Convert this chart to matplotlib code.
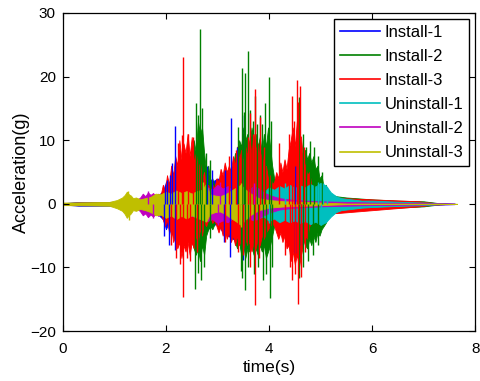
import numpy as np
import matplotlib
matplotlib.use('Agg')
import matplotlib.pyplot as plt
from matplotlib.lines import Line2D

plt.rcParams['font.family'] = ['Liberation Sans', 'DejaVu Sans']

# Envelope breakpoints: time (s), upper and lower amplitude (g)
# plus the isolated spikes that stick out of each envelope.

# Install-1 (blue)
inst1_t = [0.0, 0.3, 0.9, 1.7, 1.95, 2.0, 2.05, 2.1, 2.15, 2.2, 2.3, 2.6, 2.8, 2.9, 3.0, 3.1, 3.2, 3.3, 3.4, 3.5, 3.6, 3.8, 4.0, 4.3, 4.5, 4.7, 4.9, 5.2, 6.0, 7.0, 7.6]
inst1_hi = [0.1, 0.3, 0.3, 0.5, 2.0, 3.5, 2.5, 4.0, 3.0, 4.5, 5.0, 4.0, 4.5, 3.5, 4.0, 3.5, 4.5, 4.0, 6.0, 5.0, 5.0, 4.0, 3.0, 4.0, 5.0, 3.0, 1.5, 0.8, 0.5, 0.2, 0.05]
inst1_lo = [-0.1, -0.3, -0.3, -0.5, -2.5, -4.0, -3.0, -5.0, -4.0, -5.0, -5.0, -4.5, -4.0, -3.5, -3.0, -4.5, -5.0, -5.5, -6.0, -5.5, -5.0, -4.0, -3.0, -4.0, -5.0, -3.0, -1.5, -0.8, -0.5, -0.2, -0.05]
inst1_spk_t = [1.98, 2.02, 2.08, 2.12, 2.17, 2.80, 2.90, 3.14, 3.26, 3.38, 3.51, 4.50,
               1.97, 2.05, 2.17, 3.12, 3.25, 3.50, 4.50, 4.62]
inst1_spk_v = [3.0, 3.7, 4.5, 6.4, 12.3, 6.0, 5.3, 5.3, 13.5, 9.0, 14.0, 6.0,
               -5.0, -6.5, -7.3, -6.0, -8.3, -8.8, -7.8, -6.5]

# Install-2 (green)
inst2_t = [0.0, 1.0, 1.8, 2.1, 2.3, 2.45, 2.50, 2.54, 2.58, 2.62, 2.66, 2.70, 2.74, 2.78, 2.82, 2.86, 2.90, 2.95, 3.0,
           3.1, 3.2, 3.3, 3.34, 3.38, 3.42, 3.46, 3.50, 3.54, 3.58, 3.62, 3.66, 3.70, 3.74, 3.78, 3.82, 3.86, 3.90, 3.94, 3.98, 4.02, 4.06, 4.10,
           4.2, 4.3, 4.4, 4.5, 4.55, 4.6, 4.65, 4.70, 4.74, 4.78, 4.82, 4.86, 4.90, 4.94, 4.98, 5.02, 5.06, 5.10, 5.15, 5.2, 5.3, 5.5, 6.0, 6.5, 7.0, 7.3]
inst2_hi = [0.1, 0.2, 0.5, 2.0, 4.0, 6.0, 7.0, 10.0, 8.0, 13.0, 11.0, 12.0, 8.0, 5.0, 6.0, 3.5, 4.0, 2.5, 3.0,
            3.5, 5.0, 6.0, 8.0, 7.0, 10.0, 9.0, 12.0, 10.0, 11.0, 9.0, 12.0, 10.0, 11.0, 9.0, 10.5, 8.0, 11.0, 9.0, 12.0, 9.0, 6.0, 4.0,
            3.5, 4.0, 5.0, 7.0, 6.0, 8.0, 6.5, 8.5, 7.0, 8.0, 6.5, 7.5, 5.5, 6.0, 4.0, 4.5, 2.5, 3.0, 1.8, 1.5, 1.2, 1.0, 0.7, 0.5, 0.4, 0.1]
inst2_lo = [-0.1, -0.2, -0.5, -2.0, -4.0, -5.0, -6.0, -7.0, -8.0, -7.0, -9.0, -6.5, -8.0, -5.0, -4.0, -3.5, -4.0, -3.0, -3.0,
            -3.0, -4.0, -5.0, -6.0, -7.0, -6.0, -8.0, -6.5, -8.5, -7.0, -7.5, -6.5, -8.0, -7.0, -8.0, -6.5, -7.5, -6.5, -8.5, -7.5, -6.5, -5.0, -3.5,
            -3.0, -3.5, -4.0, -5.0, -4.5, -6.0, -5.0, -6.5, -7.0, -5.5, -6.5, -5.0, -6.0, -4.5, -5.0, -4.0, -3.5, -3.0, -2.0, -1.5, -1.4, -1.2, -0.8, -0.6, -0.4, -0.1]
inst2_spk_t = [2.58, 2.62, 2.66, 2.70, 2.77, 2.85, 3.40, 3.47, 3.52, 3.54, 3.59, 3.63, 3.68, 3.73, 3.76, 3.82, 3.87, 3.92, 3.99, 4.03,
               4.58, 4.66, 4.72, 4.80, 4.88, 4.95, 5.02,
               2.56, 2.62, 2.68, 2.74, 2.85, 3.45, 3.48, 3.53, 3.60, 3.70, 3.78, 3.88, 3.95, 4.01, 4.05, 4.58, 4.65, 4.75, 4.85, 4.95]
inst2_spk_v = [15.8, 14.0, 27.5, 15.0, 8.0, 6.9, 12.0, 21.4, 14.5, 20.5, 24.0, 14.8, 13.0, 17.0, 12.5, 14.0, 12.5, 15.8, 20.0, 13.0,
               16.8, 11.0, 9.0, 9.8, 9.0, 7.5, 5.0,
               -13.4, -10.9, -12.0, -10.0, -5.4, -10.5, -11.7, -13.6, -10.0, -11.0, -9.9, -12.0, -11.0, -14.8, -10.0, -11.7, -10.0, -9.0, -8.0, -6.5]

# Install-3 (red)
inst3_t = [0.0, 0.3, 1.0, 1.5, 1.7, 1.8,
           1.90, 1.94, 1.98, 2.02, 2.06, 2.10, 2.14, 2.18, 2.22, 2.26, 2.30, 2.34, 2.38, 2.42, 2.46, 2.50, 2.54, 2.58, 2.62, 2.66, 2.70, 2.74, 2.78, 2.82,
           2.86, 2.90, 2.94, 2.98, 3.02, 3.06, 3.10, 3.14, 3.18, 3.22, 3.26, 3.30, 3.34, 3.38, 3.42, 3.46, 3.50, 3.54, 3.58, 3.62, 3.66, 3.70, 3.74, 3.78, 3.82, 3.86, 3.90, 3.94, 3.98, 4.02, 4.06,
           4.10, 4.14, 4.18, 4.22, 4.26, 4.30, 4.34, 4.38, 4.42, 4.46, 4.50, 4.54, 4.58, 4.62, 4.66, 4.70, 4.74, 4.78, 4.82, 4.86, 4.90,
           5.0, 5.2, 5.4, 5.7, 6.0, 6.3, 6.6, 6.9, 7.1, 7.4]
inst3_hi = [0.1, 0.2, 0.2, 0.3, 0.6, 1.0,
            1.5, 3.0, 2.0, 4.5, 3.0, 6.0, 4.5, 7.5, 6.0, 10.0, 7.0, 9.5, 8.0, 11.0, 7.5, 10.5, 6.5, 8.0, 5.5, 6.5, 4.0, 5.0, 2.5, 3.0,
            2.0, 3.0, 2.5, 4.0, 3.5, 5.5, 4.5, 6.5, 5.0, 6.0, 5.0, 7.5, 6.0, 9.0, 7.0, 8.5, 6.5, 9.0, 7.5, 10.0, 8.0, 11.0, 8.5, 9.5, 7.0, 8.0, 5.5, 6.0, 4.0, 4.5, 3.0,
            3.5, 5.0, 4.0, 6.5, 5.0, 7.0, 5.5, 8.5, 10.0, 12.0, 9.0, 13.0, 11.0, 10.5, 7.0, 6.0, 4.5, 5.0, 3.0, 2.5, 2.0,
            1.0, 1.0, 0.9, 0.8, 0.7, 0.6, 0.5, 0.4, 0.2, 0.05]
inst3_lo = [-0.1, -0.2, -0.2, -0.3, -0.6, -1.0,
            -1.5, -2.5, -3.5, -2.5, -4.5, -3.5, -6.0, -5.0, -7.0, -6.0, -8.5, -6.5, -7.5, -6.0, -8.0, -6.0, -7.0, -5.0, -6.0, -4.0, -5.0, -3.0, -3.5, -2.5,
            -2.0, -3.0, -2.5, -3.5, -4.5, -3.5, -5.0, -4.0, -5.5, -4.5, -6.0, -5.0, -6.5, -5.0, -6.5, -5.5, -7.0, -5.5, -6.5, -6.0, -7.5, -6.0, -7.0, -5.5, -6.5, -5.0, -5.5, -4.5, -4.0, -3.5, -3.0,
            -3.5, -4.5, -5.5, -4.5, -6.0, -5.0, -7.0, -6.5, -9.0, -7.5, -9.5, -8.0, -10.0, -8.0, -6.5, -5.0, -5.5, -3.5, -3.0, -2.0, -2.0,
            -1.5, -1.5, -1.4, -1.2, -1.0, -0.8, -0.6, -0.4, -0.2, -0.05]
inst3_spk_t = [2.24, 2.31, 2.34, 2.43, 2.52, 3.22, 3.35, 3.60, 3.63, 3.68, 3.73, 3.82, 3.90, 4.20, 4.38, 4.44, 4.48, 4.54, 4.57, 4.60, 4.68,
               2.10, 2.20, 2.27, 2.34, 2.40, 2.46, 2.60, 3.15, 3.40, 3.50, 3.63, 3.73, 3.80, 4.30, 4.40, 4.44, 4.50, 4.56, 4.62, 4.70]
inst3_spk_v = [9.5, 10.8, 23.0, 11.0, 10.5, 7.5, 8.5, 10.5, 14.3, 11.0, 18.0, 13.7, 9.0, 9.5, 11.0, 17.0, 13.0, 19.4, 16.0, 18.5, 9.0,
               -6.5, -8.5, -9.5, -14.6, -8.5, -9.0, -7.5, -6.0, -7.5, -8.0, -9.9, -15.9, -8.5, -8.0, -10.0, -12.0, -11.0, -15.8, -11.5, -7.5]

# Uninstall-1 (cyan)
uninst1_t = [0.0, 2.8, 2.9, 3.0, 3.1, 3.2, 3.3, 3.4, 3.5, 3.6, 3.7, 3.8, 3.9, 4.0, 4.1, 4.2, 4.3, 4.4, 4.5, 4.6, 4.7, 4.8, 4.9, 5.0, 5.1, 5.2, 5.3, 5.4, 5.6, 5.8, 6.0, 6.3, 6.6, 7.0, 7.4]
uninst1_hi = [0.05, 0.2, 0.8, 1.2, 1.0, 1.5, 1.2, 1.6, 1.3, 1.8, 1.5, 2.2, 1.8, 2.6, 2.2, 2.8, 2.4, 3.0, 2.5, 2.9, 2.6, 3.1, 2.7, 3.3, 2.9, 1.8, 1.2, 0.9, 0.7, 0.5, 0.5, 0.4, 0.3, 0.2, 0.05]
uninst1_lo = [-0.05, -0.2, -0.8, -1.2, -1.0, -1.5, -1.3, -1.7, -1.3, -1.9, -1.5, -2.2, -2.0, -2.7, -2.3, -2.9, -2.5, -2.9, -2.6, -3.0, -2.7, -3.2, -2.8, -3.3, -2.9, -2.0, -1.3, -1.0, -0.8, -0.6, -0.5, -0.4, -0.3, -0.2, -0.05]
uninst1_spk_t = [4.30, 4.95, 5.05, 5.12, 4.00, 5.00]
uninst1_spk_v = [3.2, 3.4, 3.2, 2.6, -3.0, -3.3]

# Uninstall-2 (magenta)
uninst2_t = [0.0, 1.0, 1.4, 1.5, 1.55, 1.6, 1.65, 1.7, 1.75, 1.8, 1.85, 1.9, 2.0, 2.1, 2.3, 2.5, 2.7, 2.8, 2.9, 3.0, 3.1, 3.2, 3.3, 3.4, 3.5, 3.6, 3.7, 3.8, 3.9, 4.0, 4.2, 4.5, 5.0, 6.0, 7.0, 7.6]
uninst2_hi = [0.05, 0.2, 0.4, 1.0, 1.6, 1.2, 1.8, 1.4, 1.7, 1.2, 1.6, 1.3, 1.5, 1.3, 1.5, 1.6, 2.0, 2.6, 2.2, 3.0, 2.4, 2.8, 2.0, 1.5, 1.6, 2.2, 2.8, 2.4, 1.8, 1.4, 0.9, 0.6, 0.4, 0.2, 0.1, 0.05]
uninst2_lo = [-0.05, -0.2, -0.4, -1.2, -1.8, -1.5, -2.1, -1.7, -2.0, -1.6, -1.9, -1.6, -1.8, -1.5, -1.8, -1.9, -2.2, -2.7, -2.4, -3.0, -2.6, -2.9, -2.2, -1.6, -1.8, -2.3, -2.6, -2.3, -1.8, -1.4, -0.9, -0.6, -0.4, -0.2, -0.1, -0.05]
uninst2_spk_t = [1.65, 3.05, 3.70, 1.75, 3.00]
uninst2_spk_v = [2.0, 3.4, 3.3, -2.3, -3.3]

# Uninstall-3 (yellow)
uninst3_t = [0.0, 0.5, 0.9, 1.05, 1.15, 1.2, 1.24, 1.28, 1.32, 1.36, 1.42, 1.5, 1.6, 1.7, 1.8, 1.9, 2.0, 2.1, 2.2, 2.3, 2.4, 2.5, 2.6, 2.7, 2.78,
             2.85, 2.95, 3.05, 3.15, 3.25, 3.35, 3.45, 3.55, 3.65, 3.8, 4.0, 4.3, 4.7, 5.0, 5.5, 7.65]
uninst3_hi = [0.2, 0.25, 0.3, 0.6, 1.0, 1.4, 1.9, 1.5, 1.3, 0.9, 1.0, 0.7, 0.9, 1.1, 1.6, 1.5, 1.9, 1.6, 2.1, 1.7, 2.0, 1.6, 2.0, 2.2, 3.2,
              1.5, 1.3, 1.2, 1.5, 2.0, 2.5, 3.0, 2.2, 1.6, 0.9, 0.6, 0.4, 0.3, 0.2, 0.05, 0.0]
uninst3_lo = [-0.2, -0.25, -0.3, -0.7, -1.1, -1.6, -2.2, -1.8, -1.5, -1.0, -1.1, -0.8, -1.0, -1.3, -1.8, -1.7, -2.2, -1.8, -2.4, -1.9, -2.3, -1.8, -2.2, -2.5, -2.8,
              -1.6, -1.3, -1.2, -1.6, -2.2, -2.7, -3.3, -2.4, -1.7, -1.0, -0.6, -0.4, -0.3, -0.2, -0.05, 0.0]
uninst3_spk_t = [1.26, 2.72, 3.45, 1.28, 3.45]
uninst3_spk_v = [2.0, 3.5, 3.2, -2.5, -3.6]

labels = ['Install-1', 'Install-2', 'Install-3', 'Uninstall-1', 'Uninstall-2', 'Uninstall-3']
colors = ['#0000ff', '#008000', '#ff0000', '#00bfbf', '#bf00bf', '#bfbf00']

series = [
    (inst1_t, inst1_hi, inst1_lo, inst1_spk_t, inst1_spk_v),
    (inst2_t, inst2_hi, inst2_lo, inst2_spk_t, inst2_spk_v),
    (inst3_t, inst3_hi, inst3_lo, inst3_spk_t, inst3_spk_v),
    (uninst1_t, uninst1_hi, uninst1_lo, uninst1_spk_t, uninst1_spk_v),
    (uninst2_t, uninst2_hi, uninst2_lo, uninst2_spk_t, uninst2_spk_v),
    (uninst3_t, uninst3_hi, uninst3_lo, uninst3_spk_t, uninst3_spk_v),
]

fig = plt.figure(figsize=(4.8, 3.81), dpi=100)
ax = fig.add_axes([0.131, 0.131, 0.859, 0.835])

for (t, hi, lo, st, sv), c in zip(series, colors):
    ax.fill_between(t, lo, hi, facecolor=c, edgecolor=c, linewidth=0.6)
    ax.vlines(st, 0, sv, colors=c, linewidth=1.0)

ax.set_xlim(0, 8)
ax.set_ylim(-20, 30)
ax.set_xticks([0, 2, 4, 6, 8])
ax.set_yticks([-20, -10, 0, 10, 20, 30])
ax.tick_params(direction='in', top=True, right=True, length=4, width=0.8, labelsize=11)
ax.tick_params(axis='x', pad=8)
ax.tick_params(axis='y', pad=5)
for s in ax.spines.values():
    s.set_linewidth(0.9)
ax.set_xlabel('time(s)', fontsize=12.5, labelpad=3)
ax.set_ylabel('Acceleration(g)', fontsize=13, labelpad=0)

handles = [Line2D([0], [0], color=c, lw=1.2) for c in colors]
leg = ax.legend(handles, labels, loc='upper right', fancybox=False, framealpha=1,
                edgecolor='black', borderaxespad=0.35, handlelength=2.4,
                handletextpad=0.3, labelspacing=0.55, borderpad=0.35, fontsize=12)
leg.get_frame().set_linewidth(1.0)

fig.savefig('out.png', dpi=100)
